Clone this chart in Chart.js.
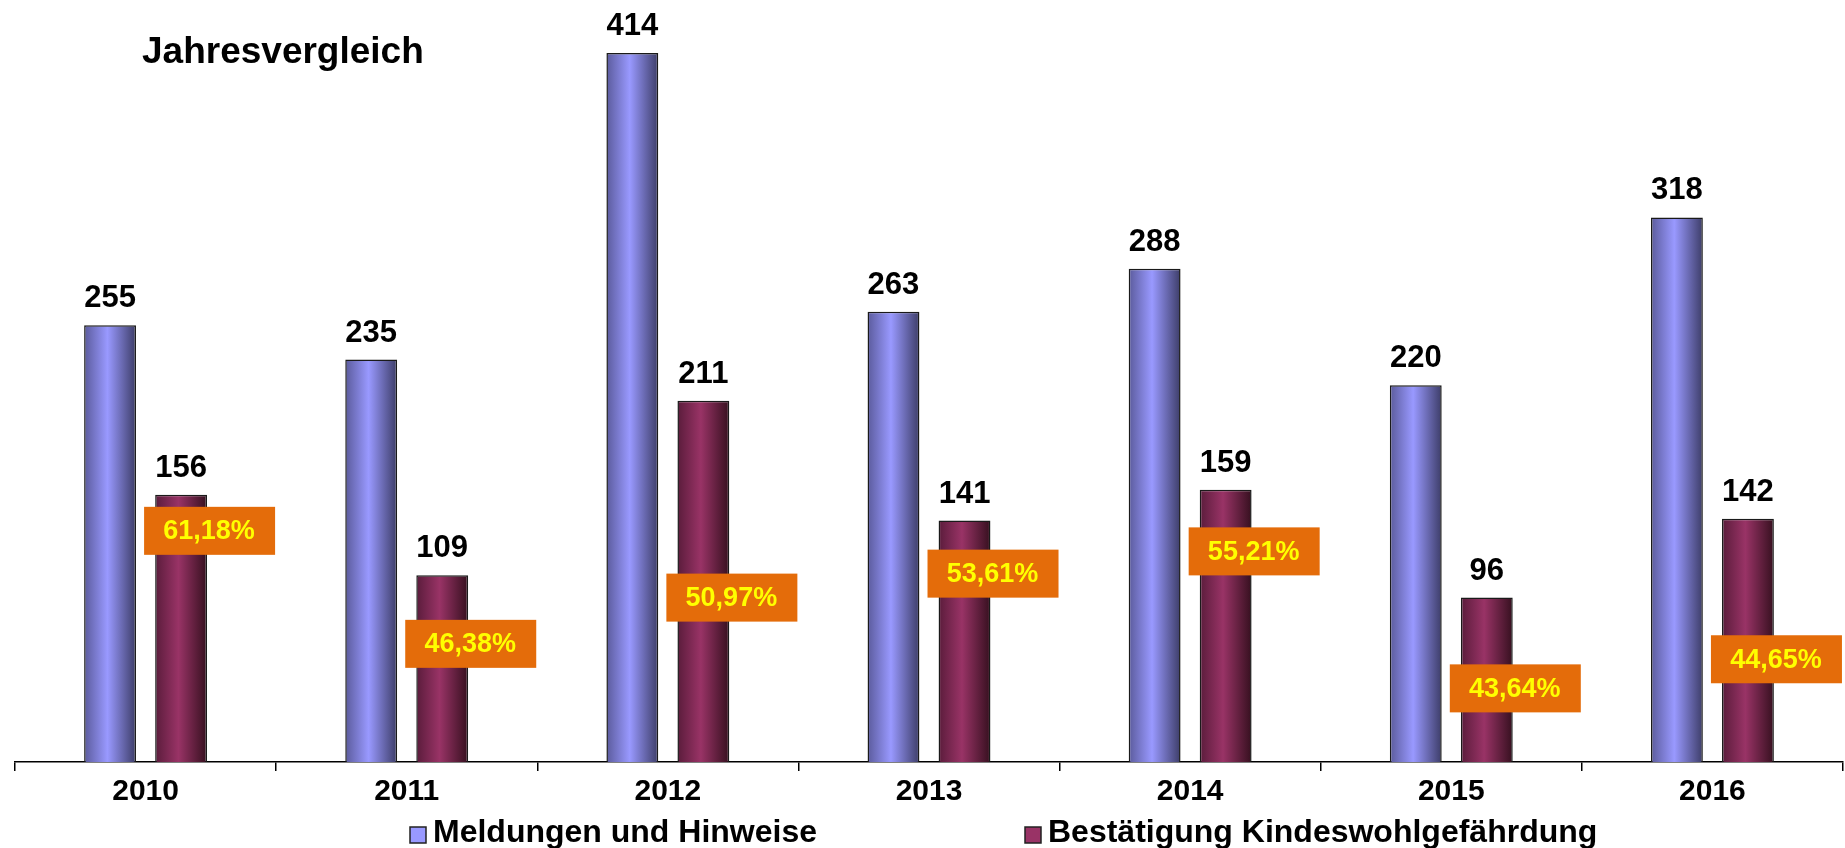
<!DOCTYPE html>
<html lang="de">
<head>
<meta charset="utf-8">
<title>Jahresvergleich</title>
<script src="https://cdn.jsdelivr.net/npm/chart.js@4/dist/chart.umd.min.js"></script>
<style>
  html, body { margin: 0; padding: 0; background: #fff; }
  #wrap { width: 1845px; height: 848px; }
</style>
</head>
<body>
<div id="wrap"><canvas id="chart-jahresvergleich" width="1845" height="848"></canvas></div>
<script>
/*
  ==================================================
  ====================== DATOS ======================
  ==================================================
*/

const anios = ['2010', '2011', '2012', '2013', '2014', '2015', '2016'];
const meldungen = [255, 235, 414, 263, 288, 220, 318];
const bestaetigungen = [156, 109, 211, 141, 159, 96, 142];

// height (in values) where each percentage box sits, placed by hand in the original
const quotePos = [135, 69, 96, 110, 123, 43, 60];

/*
  ==================================================
  ===================== ESTILOS =====================
  ==================================================
*/

const FONT = '"Liberation Sans", Arial, sans-serif';
const CATEGORY_PCT = 0.544;
const BAR_PCT = 0.73;

const azul = ['#5b5b9c', '#9999ff', '#3d3d68'];
const granate = ['#5a1c3b', '#993366', '#36101f'];

/** @param {any} ctx @param {string[]} stops */
let barGradient = (ctx, stops) => {
  let chart = ctx.chart;
  let x = chart.scales.x;
  if (ctx.type !== 'data' || !x || !x.width) return stops[1];
  let slot = x.width / anios.length * CATEGORY_PCT / 2;
  let center = x.getPixelForValue(ctx.dataIndex) + (ctx.datasetIndex - 0.5) * slot;
  let w = slot * BAR_PCT;
  let g = chart.ctx.createLinearGradient(center - w / 2, 0, center + w / 2, 0);
  g.addColorStop(0, stops[0]);
  g.addColorStop(0.45, stops[1]);
  g.addColorStop(1, stops[2]);
  return g;
}

/*
  ==================================================
  ===================== PLUGINS =====================
  ==================================================
*/

const etiquetas = {
  id: 'etiquetas',
  afterDatasetsDraw(chart) {
    let c = chart.ctx;
    c.save();
    // values above the bars
    c.font = `bold 31px ${FONT}`;
    c.fillStyle = '#000';
    c.textAlign = 'center';
    c.textBaseline = 'alphabetic';
    chart.data.datasets.forEach((ds, di) => {
      chart.getDatasetMeta(di).data.forEach((bar, i) => {
        c.fillText(String(ds.data[i]), bar.x, bar.y - 18);
      });
    });
    // percentage boxes
    let y = chart.scales.y;
    let meta = chart.getDatasetMeta(1);
    c.font = `bold 27px ${FONT}`;
    c.textBaseline = 'middle';
    meta.data.forEach((bar, i) => {
      let cx = bar.x + 28;
      let cy = y.getPixelForValue(quotePos[i]);
      c.fillStyle = '#e46c0a';
      c.fillRect(cx - 65, cy - 24, 131, 48);
      let pct = (bestaetigungen[i] / meldungen[i] * 100).toFixed(2).replace('.', ',') + '%';
      c.fillStyle = '#ffff00';
      c.fillText(pct, cx, cy + 1);
    });
    c.restore();
  }
};

const titulo = {
  id: 'titulo',
  afterDraw(chart) {
    let c = chart.ctx;
    c.save();
    c.font = `bold 37px ${FONT}`;
    c.fillStyle = '#000';
    c.textAlign = 'left';
    c.textBaseline = 'alphabetic';
    c.fillText('Jahresvergleich', 142, 63);
    c.restore();
  }
};

const leyenda = {
  id: 'leyenda',
  afterDraw(chart) {
    let c = chart.ctx;
    let xs = [410, 1025];
    let colores = [azul[1], granate[1]];
    c.save();
    c.font = `bold 32px ${FONT}`;
    c.textAlign = 'left';
    c.textBaseline = 'alphabetic';
    chart.data.datasets.forEach((ds, i) => {
      c.fillStyle = colores[i];
      c.fillRect(xs[i], 827, 16, 16);
      c.strokeStyle = '#222';
      c.lineWidth = 1.5;
      c.strokeRect(xs[i], 827, 16, 16);
      c.fillStyle = '#000';
      c.fillText(ds.label, xs[i] + 23, 842);
    });
    c.restore();
  }
};

/*
  ==================================================
  ===================== GRAFICO =====================
  ==================================================
*/

let canvas = document.getElementById('chart-jahresvergleich').getContext('2d');

let chart = new Chart(canvas, {
  type: 'bar',
  data: {
    labels: anios,
    datasets: [{
      label: 'Meldungen und Hinweise',
      data: meldungen,
      backgroundColor: (ctx) => barGradient(ctx, azul),
      borderColor: '#1a1a1a',
      borderWidth: 1.5,
      categoryPercentage: CATEGORY_PCT,
      barPercentage: BAR_PCT
    }, {
      label: 'Bestätigung Kindeswohlgefährdung',
      data: bestaetigungen,
      backgroundColor: (ctx) => barGradient(ctx, granate),
      borderColor: '#1a1a1a',
      borderWidth: 1.5,
      categoryPercentage: CATEGORY_PCT,
      barPercentage: BAR_PCT
    }]
  },
  options: {
    responsive: false,
    animation: false,
    events: [],
    layout: { padding: { left: 15, right: 2, top: 0, bottom: 35 } },
    plugins: {
      legend: { display: false },
      tooltip: { enabled: false }
    },
    scales: {
      x: {
        grid: {
          display: true,
          drawOnChartArea: false,
          drawTicks: true,
          tickLength: 9,
          color: '#000',
          lineWidth: 1.5,
          offset: true
        },
        border: { display: true, color: '#000', width: 1.5 },
        ticks: {
          color: '#000',
          padding: 3,
          font: { family: FONT, size: 30, weight: 'bold' }
        }
      },
      y: {
        display: false,
        min: 0,
        max: 445
      }
    }
  },
  plugins: [etiquetas, titulo, leyenda]
});
</script>
</body>
</html>
